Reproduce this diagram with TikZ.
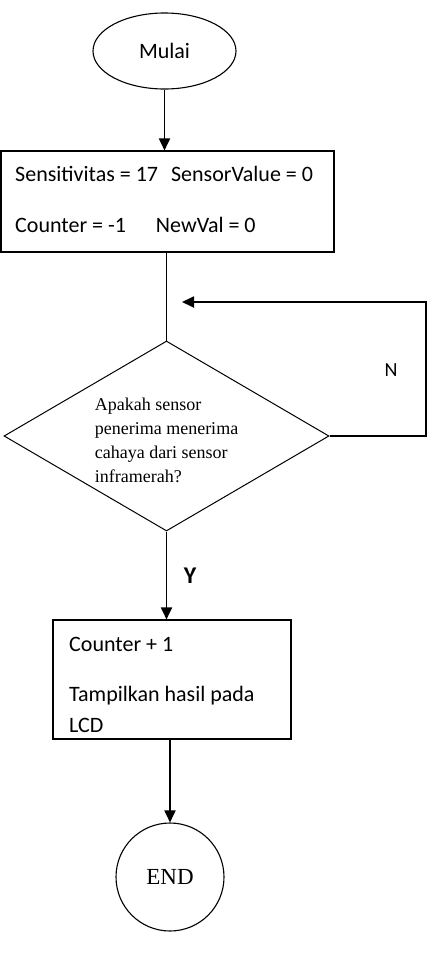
\documentclass[tikz,border=0pt]{standalone}
\usepackage{fontspec}
\setmainfont{Liberation Serif}
\newfontfamily\calibri{Carlito}
\usetikzlibrary{shapes.geometric, arrows.meta}

\tikzset{
    proc/.style={draw, line width=1.1pt, rectangle, inner sep=0pt},
    cond/.style={draw, line width=1pt, diamond, inner sep=0pt},
    txt/.style={anchor=base west, inner sep=0pt, font=\calibri\fontsize{22}{26}\selectfont},
    flow/.style={line width=1.8pt, -{Triangle[length=12pt, width=11pt]}}
}

\begin{document}
\begin{tikzpicture}[x=1pt, y=-1pt]
            \useasboundingbox (0, 0) rectangle (429, 964);
            \node[draw, line width=1.1pt, ellipse, minimum width=143, minimum height=76, font=\calibri\fontsize{22}{26}\selectfont](start) at (164.5, 51){Mulai};
            \node[proc, minimum width=333, minimum height=101](init) at (167.5, 201.5){};
            \node[txt](initA) at (15, 181){Sensitivitas = 17\hspace{13pt}SensorValue = 0};
            \node[txt](initB) at (15, 232){Counter = -1\hspace{30pt}NewVal = 0};
            \node[cond, minimum width=325, minimum height=190](dec) at (166.5, 436){};
            \node[align=left, inner sep=0pt, font=\fontsize{18}{24}\selectfont](decq) at ([yshift=-4pt]dec.center){Apakah sensor\\penerima menerima\\cahaya dari sensor\\inframerah?};
            \node[proc, minimum width=238, minimum height=119](out) at (172, 679.5){};
            \node[txt](outA) at (69, 651){Counter + 1};
            \node[txt](outB) at (69, 701){Tampilkan hasil pada};
            \node[txt](outC) at (69, 732){LCD};
            \node[draw, line width=1.1pt, circle, minimum size=108, font=\fontsize{23}{27}\selectfont](stop) at (170, 877){END};
            \coordinate(back) at (426, 302);
            \coordinate(backin) at (182, 302);
            \draw[flow](start.south)--(start.south |- init.north);
            \draw[line width=1.8pt](init.south -| dec.north)--(dec.north);
            \draw[flow](dec.east)-|(back)--(backin);
            \node[font=\calibri\fontsize{20}{24}\selectfont](nlab) at (391, 370){N};
            \draw[flow](dec.south)--(dec.south |- out.north);
            \node[font=\calibri\bfseries\fontsize{24}{28}\selectfont](ylab) at (190, 576){Y};
            \draw[flow](out.south -| stop.north)--(stop.north);
        \end{tikzpicture}
\end{document}
